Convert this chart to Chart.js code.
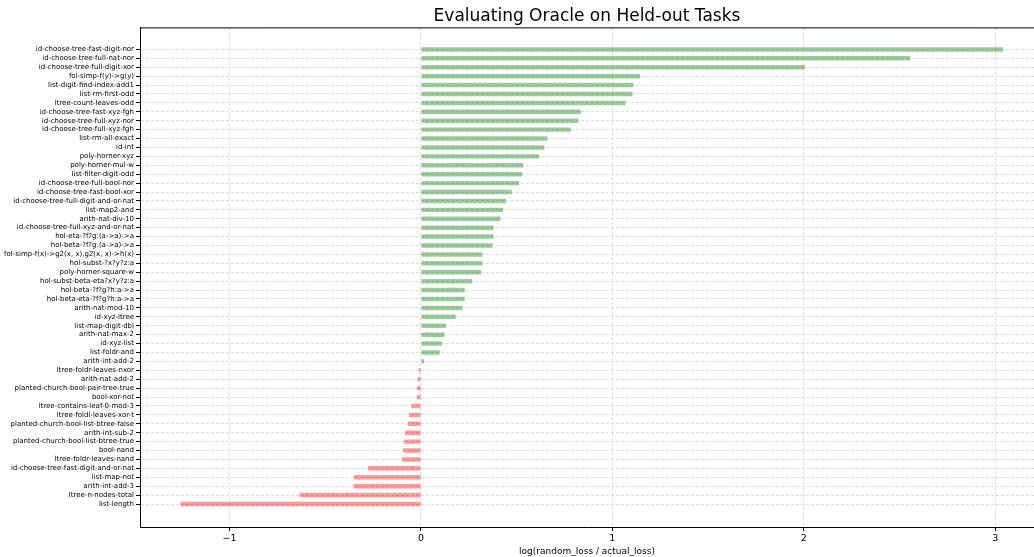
<!DOCTYPE html>
<html>
<head>
<meta charset="utf-8">
<script src="https://cdn.jsdelivr.net/npm/chart.js@4/dist/chart.umd.min.js"></script>
<style>
  html, body { margin: 0; padding: 0; background: #fff; }
  #wrap { width: 1034px; height: 557px; }
</style>
</head>
<body>
<div id="wrap"><canvas id="myChart" width="1034" height="557"></canvas></div>
<script>
// task names, top to bottom
var tasks = [
  'id-choose-tree-fast-digit-nor', 'id-choose-tree-full-nat-nor', 'id-choose-tree-full-digit-xor',
  'fol-simp-f(y)->g(y)', 'list-digit-find-index-add1', 'list-rm-first-odd', 'ltree-count-leaves-odd',
  'id-choose-tree-fast-xyz-fgh', 'id-choose-tree-full-xyz-nor', 'id-choose-tree-full-xyz-fgh',
  'list-rm-all-exact', 'id-int', 'poly-horner-xyz', 'poly-horner-mul-w', 'list-filter-digit-odd',
  'id-choose-tree-full-bool-nor', 'id-choose-tree-fast-bool-xor', 'id-choose-tree-full-digit-and-or-nat',
  'list-map2-and', 'arith-nat-div-10', 'id-choose-tree-full-xyz-and-or-nat', 'hol-eta-?f?g:(a->a)->a',
  'hol-beta-?f?g:(a->a)->a', 'fol-simp-f(x)->g2(x, x),g2(x, x)->h(x)', 'hol-subst-?x?y?z:a',
  'poly-horner-square-w', 'hol-subst-beta-eta?x?y?z:a', 'hol-beta-?f?g?h:a->a', 'hol-beta-eta-?f?g?h:a->a',
  'arith-nat-mod-10', 'id-xyz-ltree', 'list-map-digit-dbl', 'arith-nat-max-2', 'id-xyz-list',
  'list-foldr-and', 'arith-int-add-2', 'ltree-foldr-leaves-nxor', 'arith-nat-add-2',
  'planted-church-bool-pair-tree-true', 'bool-xor-not', 'ltree-contains-leaf-0-mod-3',
  'ltree-foldl-leaves-xor-t', 'planted-church-bool-list-btree-false', 'arith-int-sub-2',
  'planted-church-bool-list-btree-true', 'bool-nand', 'ltree-foldr-leaves-nand',
  'id-choose-tree-fast-digit-and-or-nat', 'list-map-not', 'arith-int-add-3', 'ltree-n-nodes-total',
  'list-length'
];

// log(random_loss / actual_loss)
var scores = [
  3.04, 2.557, 2.007,
  1.145, 1.11, 1.105, 1.07,
  0.836, 0.822, 0.784,
  0.66, 0.645, 0.618, 0.534, 0.529,
  0.513, 0.475, 0.445,
  0.429, 0.415, 0.379, 0.379,
  0.374, 0.321, 0.321,
  0.314, 0.267, 0.229, 0.229,
  0.216, 0.182, 0.131, 0.124, 0.11,
  0.098, 0.017, -0.012, -0.017,
  -0.021, -0.021, -0.051,
  -0.063, -0.068, -0.084,
  -0.089, -0.093, -0.098,
  -0.276, -0.351, -0.351, -0.635,
  -1.257
];

var xTicks = [-1, 0, 1, 2, 3];

var points = tasks.map(function (t, i) { return { x: scores[i], y: i }; });
var barColors = scores.map(function (v) {
  return v >= 0 ? 'rgba(0, 128, 0, 0.4)' : 'rgba(255, 0, 0, 0.4)';
});

// top spine
var frameLine = {
  id: 'frameLine',
  afterDraw: function (chart) {
    var a = chart.chartArea, c = chart.ctx;
    c.save();
    c.strokeStyle = '#000';
    c.lineWidth = 1;
    c.beginPath();
    c.moveTo(a.left, a.top + 0.5);
    c.lineTo(a.right, a.top + 0.5);
    c.stroke();
    c.restore();
  }
};

Chart.defaults.font.family = 'DejaVu Sans';
Chart.defaults.color = '#000';

var ctx = document.getElementById('myChart');
var myBarChart = new Chart(ctx, {
  type: 'bar',
  data: {
    datasets: [{
      data: points,
      backgroundColor: barColors,
      borderWidth: 0,
      categoryPercentage: 0.5,
      barPercentage: 1.0
    }]
  },
  plugins: [frameLine],
  options: {
    responsive: false,
    animation: false,
    indexAxis: 'y',
    layout: { padding: { left: 0, right: 0, top: 0, bottom: 0 } },
    plugins: {
      legend: { display: false },
      tooltip: { enabled: false },
      title: {
        display: true,
        text: 'Evaluating Oracle on Held-out Tasks',
        fullSize: false,
        font: { size: 17, weight: 'normal' },
        color: '#000',
        padding: { top: 6, bottom: 1 }
      }
    },
    scales: {
      x: {
        type: 'linear',
        min: -1.468,
        max: 3.203,
        afterBuildTicks: function (scale) {
          scale.ticks = xTicks.map(function (v) { return { value: v }; });
        },
        afterFit: function (scale) { scale.height = 30; },
        ticks: {
          font: { size: 9.5 },
          padding: 2,
          maxRotation: 0,
          callback: function (v) { return String(v).replace('-', '\u2212'); }
        },
        grid: {
          color: '#dcdcdc',
          tickColor: '#000',
          tickLength: 4,
          drawOnChartArea: true
        },
        border: { display: true, color: '#000', width: 1, dash: [3, 2] },
        title: {
          display: true,
          text: 'log(random_loss / actual_loss)',
          font: { size: 9 },
          padding: { top: 2, bottom: 0 }
        }
      },
      y: {
        type: 'linear',
        reverse: true,
        offset: false,
        min: -2.47,
        max: 53.58,
        afterBuildTicks: function (scale) {
          scale.ticks = tasks.map(function (t, i) { return { value: i }; });
        },
        afterFit: function (scale) { scale.width = 140; },
        ticks: {
          autoSkip: false,
          font: { size: 7 },
          padding: 2,
          callback: function (v) { return tasks[v]; }
        },
        grid: {
          offset: false,
          color: '#dcdcdc',
          tickColor: '#000',
          tickLength: 4
        },
        border: { display: true, color: '#000', width: 1, dash: [3, 2] }
      }
    }
  }
});
</script>
</body>
</html>
